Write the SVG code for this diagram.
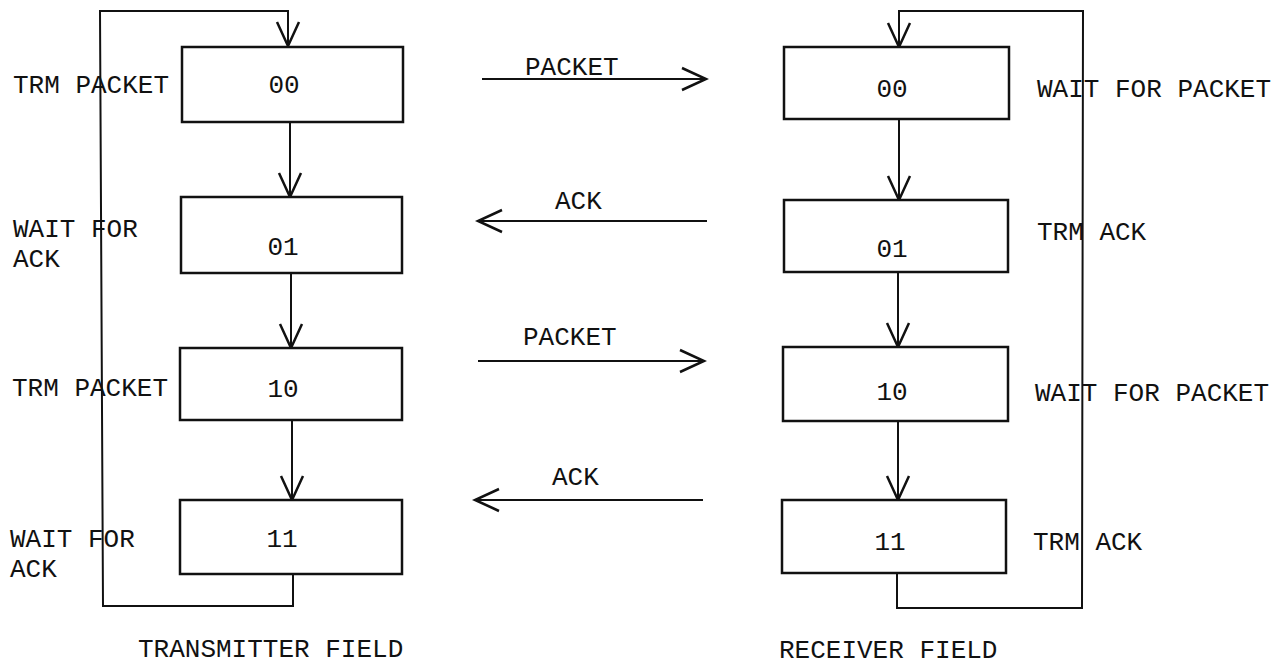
<svg xmlns="http://www.w3.org/2000/svg" width="1279" height="664" viewBox="0 0 1279 664">
<style>
.box{fill:#fff;stroke:#111;stroke-width:2.5}
.ln{fill:none;stroke:#111;stroke-width:2}
text{font-family:"Liberation Mono","DejaVu Sans Mono",monospace;font-size:26px;fill:#111}
.c{text-anchor:middle}
</style>
<defs>
<marker id="ah" markerWidth="30" markerHeight="30" viewBox="-26 -13 30 26" refX="0" refY="0" orient="auto" markerUnits="userSpaceOnUse">
<path d="M-24,-11 L0,0 L-24,11" fill="none" stroke="#111" stroke-width="2.5"/>
</marker>
</defs>
<rect width="1279" height="664" fill="#fff"/>
<g id="connectors">
<polyline class="ln" points="293,574 293,606 103,606 100,11 288,11 288,46" marker-end="url(#ah)"/>
<line class="ln" x1="290" y1="122" x2="290" y2="197" marker-end="url(#ah)"/>
<line class="ln" x1="291" y1="273" x2="291" y2="348" marker-end="url(#ah)"/>
<line class="ln" x1="292" y1="420" x2="292" y2="500" marker-end="url(#ah)"/>
<polyline class="ln" points="897,573 897,608 1082,608 1083,11 899,11 899,47" marker-end="url(#ah)"/>
<line class="ln" x1="899" y1="119" x2="899" y2="200" marker-end="url(#ah)"/>
<line class="ln" x1="898" y1="272" x2="898" y2="347" marker-end="url(#ah)"/>
<line class="ln" x1="898" y1="421" x2="898" y2="500" marker-end="url(#ah)"/>
<line class="ln" x1="482" y1="79" x2="706" y2="79" marker-end="url(#ah)"/>
<line class="ln" x1="707" y1="221" x2="478" y2="221" marker-end="url(#ah)"/>
<line class="ln" x1="478" y1="361" x2="704" y2="361" marker-end="url(#ah)"/>
<line class="ln" x1="703" y1="500" x2="475" y2="500" marker-end="url(#ah)"/>
<text x="525" y="75">PACKET</text>
<text x="555" y="209">ACK</text>
<text x="523" y="345">PACKET</text>
<text x="552" y="485">ACK</text>
</g>
<g id="t00"><rect class="box" x="182" y="47" width="221" height="75"/><text class="c" x="284" y="93">00</text></g>
<g id="t01"><rect class="box" x="181" y="197" width="221" height="76"/><text class="c" x="283" y="255">01</text></g>
<g id="t10"><rect class="box" x="180" y="348" width="222" height="72"/><text class="c" x="283" y="397">10</text></g>
<g id="t11"><rect class="box" x="180" y="500" width="222" height="74"/><text class="c" x="282" y="547">11</text></g>
<g id="r00"><rect class="box" x="784" y="47" width="225" height="72"/><text class="c" x="892" y="97">00</text></g>
<g id="r01"><rect class="box" x="784" y="200" width="224" height="72"/><text class="c" x="892" y="257">01</text></g>
<g id="r10"><rect class="box" x="783" y="347" width="225" height="74"/><text class="c" x="892" y="400">10</text></g>
<g id="r11"><rect class="box" x="782" y="500" width="224" height="73"/><text class="c" x="890" y="550">11</text></g>
<g id="labels">
<text x="13" y="93">TRM PACKET</text>
<text x="13" y="237">WAIT FOR</text>
<text x="13" y="267">ACK</text>
<text x="12" y="396">TRM PACKET</text>
<text x="10" y="547">WAIT FOR</text>
<text x="10" y="577">ACK</text>
<text x="1037" y="97">WAIT FOR PACKET</text>
<text x="1037" y="240">TRM ACK</text>
<text x="1035" y="401">WAIT FOR PACKET</text>
<text x="1033" y="550">TRM ACK</text>
<text x="138" y="657">TRANSMITTER FIELD</text>
<text x="779" y="658">RECEIVER FIELD</text>
</g>
</svg>
